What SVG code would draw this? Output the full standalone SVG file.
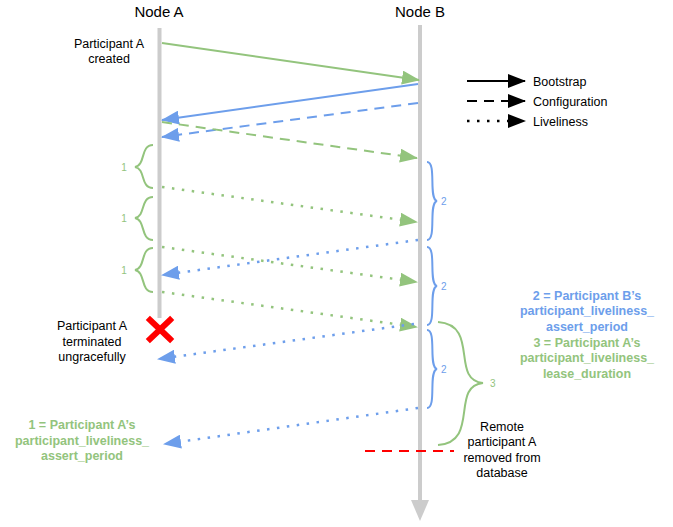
<svg xmlns="http://www.w3.org/2000/svg" width="673" height="527" viewBox="0 0 673 527">
<style>
text{font-family:"Liberation Sans",Arial,sans-serif;font-size:12.5px;fill:#000}
.hdr{font-size:15px}
.c{text-anchor:middle}
.g{fill:#93c47d}.b{fill:#6d9eeb}
.bold{font-weight:bold}
.sm{font-size:10px}
.life{stroke:#cccccc;stroke-width:4;fill:none}
.ln{fill:none;stroke-width:2}
.gs{stroke:#93c47d}.bs{stroke:#6d9eeb}.ks{stroke:#000}
.dash{stroke-dasharray:10 7}
.dot{stroke-dasharray:2.5 7.5;stroke-width:2.5}
.br{fill:none;stroke-width:2}
</style>
<defs>
<marker id="ag" markerUnits="userSpaceOnUse" markerWidth="18" markerHeight="14" refX="17" refY="7" orient="auto"><path d="M0,0 L18,7 L0,14 Z" fill="#93c47d"/></marker>
<marker id="ab" markerUnits="userSpaceOnUse" markerWidth="18" markerHeight="14" refX="17" refY="7" orient="auto"><path d="M0,0 L18,7 L0,14 Z" fill="#6d9eeb"/></marker>
<marker id="ak" markerUnits="userSpaceOnUse" markerWidth="18" markerHeight="14" refX="17" refY="7" orient="auto"><path d="M0,0 L18,7 L0,14 Z" fill="#000"/></marker>
</defs>

<g id="nodeA">
<text class="hdr c" x="159" y="17">Node A</text>
<line class="life" x1="159.5" y1="28" x2="159.5" y2="318"/>
</g>
<g id="nodeB">
<text class="hdr c" x="420" y="17">Node B</text>
<line class="life" x1="420" y1="25" x2="420" y2="502"/>
<path d="M411,500 L429,500 L420,521 Z" fill="#cccccc"/>
</g>

<g id="connectors">
<line class="ln gs" x1="162" y1="43" x2="419" y2="80" marker-end="url(#ag)"/>
<line class="ln bs" x1="418" y1="84" x2="162" y2="120" marker-end="url(#ab)"/>
<line class="ln bs dash" x1="418" y1="103" x2="162" y2="137" marker-end="url(#ab)"/>
<line class="ln gs dash" x1="162" y1="122" x2="417" y2="158" marker-end="url(#ag)"/>
<line class="ln gs dot" x1="162" y1="187" x2="417" y2="222" marker-end="url(#ag)"/>
<line class="ln bs dot" x1="418" y1="240" x2="162" y2="275" marker-end="url(#ab)"/>
<line class="ln gs dot" x1="162" y1="247" x2="417" y2="282" marker-end="url(#ag)"/>
<line class="ln gs dot" x1="162" y1="292" x2="417" y2="327" marker-end="url(#ag)"/>
<line class="ln bs dot" x1="414" y1="324" x2="158" y2="359" marker-end="url(#ab)"/>
<line class="ln bs dot" x1="418" y1="408" x2="164" y2="444" marker-end="url(#ab)"/>
<line stroke="#ff0000" stroke-width="2" stroke-dasharray="10 7" x1="365" y1="451" x2="454" y2="451"/>
</g>

<g id="braces-left">
<path class="br gs" d="M153,145 C140,145 146,165 135,167 C146,169 140,188 153,188"/>
<path class="br gs" d="M153,197 C140,197 146,216 135,218 C146,220 140,240 153,240"/>
<path class="br gs" d="M153,248 C140,248 146,268 135,270 C146,272 140,292 153,292"/>
<text class="g sm c" x="124" y="171">1</text>
<text class="g sm c" x="124" y="222">1</text>
<text class="g sm c" x="124" y="274">1</text>
</g>
<g id="braces-right">
<path class="br bs" d="M427,162 C437,162 428,199 437,201 C428,203 437,240 427,240"/>
<path class="br bs" d="M427,247 C437,247 428,284 437,286 C428,288 437,325 427,325"/>
<path class="br bs" d="M427,330 C437,330 428,367 437,369 C428,371 437,408 427,408"/>
<text class="b sm" x="441" y="205">2</text>
<text class="b sm" x="441" y="290">2</text>
<text class="b sm" x="441" y="373">2</text>
<path class="br gs" d="M438,322 C480,325 450,380 483,383 C450,386 480,442 438,445"/>
<text class="g sm" x="490" y="387">3</text>
</g>

<g id="legend">
<line class="ln ks" x1="467" y1="81" x2="525" y2="81" marker-end="url(#ak)"/>
<line class="ln ks dash" x1="467" y1="101" x2="525" y2="101" marker-end="url(#ak)"/>
<line class="ln ks dot" x1="467" y1="121" x2="525" y2="121" marker-end="url(#ak)"/>
<text x="533" y="86">Bootstrap</text>
<text x="533" y="106">Configuration</text>
<text x="533" y="126">Liveliness</text>
</g>

<g id="label-created">
<text class="c" x="109" y="48">Participant A</text>
<text class="c" x="109" y="63">created</text>
</g>
<g id="label-terminated">
<path d="M150,320 L170,339 M170,320 L150,339" stroke="#ff0000" stroke-width="6" stroke-linecap="square"/>
<text class="c" x="92" y="330">Participant A</text>
<text class="c" x="92" y="346">terminated</text>
<text class="c" x="92" y="361">ungracefully</text>
</g>
<g id="label-1">
<text class="g bold c" x="82" y="429">1 = Participant A’s</text>
<text class="g bold c" x="82" y="445">participant_liveliness_</text>
<text class="g bold c" x="82" y="460">assert_period</text>
</g>
<g id="label-23">
<text class="b bold c" x="587" y="300">2 = Participant B’s</text>
<text class="b bold c" x="587" y="315">participant_liveliness_</text>
<text class="b bold c" x="587" y="331">assert_period</text>
<text class="g bold c" x="587" y="347">3 = Participant A’s</text>
<text class="g bold c" x="587" y="362">participant_liveliness_</text>
<text class="g bold c" x="587" y="378">lease_duration</text>
</g>
<g id="label-removed">
<text class="c" x="502" y="431">Remote</text>
<text class="c" x="502" y="446">participant A</text>
<text class="c" x="502" y="462">removed from</text>
<text class="c" x="502" y="477">database</text>
</g>
</svg>
